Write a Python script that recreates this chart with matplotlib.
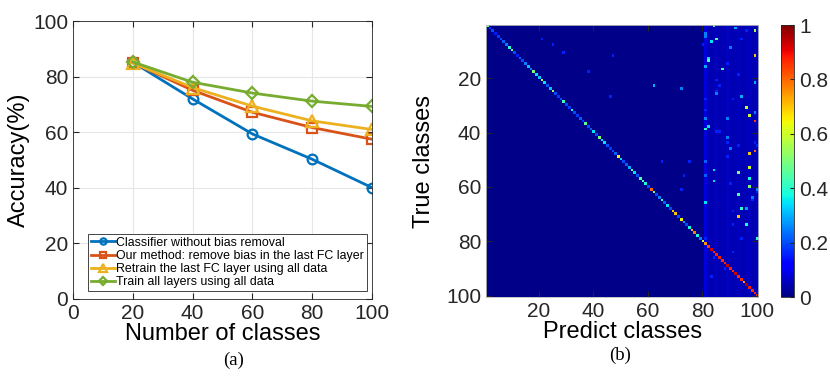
import matplotlib
matplotlib.use("Agg")
import matplotlib.pyplot as plt
import numpy as np

plt.rcParams['font.family'] = ['Liberation Sans', 'DejaVu Sans']

# ---- (a) accuracy vs number of classes
n_classes = [20, 40, 60, 80, 100]
acc_no_bias = [85.2, 72.0, 59.4, 50.3, 40.1]
acc_ours = [85.0, 75.1, 67.2, 61.7, 57.5]
acc_retrain_fc = [84.9, 76.1, 69.4, 64.1, 61.0]
acc_train_all = [85.3, 78.0, 74.1, 71.2, 69.3]
labels = ['Classifier without bias removal',
          'Our method: remove bias in the last FC layer',
          'Retrain the last FC layer using all data',
          'Train all layers using all data']

# ---- (b) confusion matrix (100 classes)
diag_vals = [0.50, 0.18, 0.20, 0.15, 0.18, 0.20, 0.22, 0.25, 0.40, 0.45,
             0.20, 0.15, 0.22, 0.20, 0.25, 0.32, 0.25, 0.50, 0.35, 0.32,
             0.55, 0.35, 0.20, 0.32, 0.55, 0.20, 0.18, 0.20, 0.42, 0.20,
             0.18, 0.37, 0.20, 0.18, 0.22, 0.18, 0.45, 0.20, 0.22, 0.35,
             0.20, 0.50, 0.35, 0.35, 0.20, 0.18, 0.20, 0.22, 0.65, 0.35,
             0.20, 0.22, 0.30, 0.45, 0.35, 0.20, 0.45, 0.42, 0.38, 0.20,
             0.80, 0.50, 0.20, 0.25, 0.42, 0.22, 0.35, 0.20, 0.70, 0.70,
             0.20, 0.65, 0.28, 0.20, 0.38, 0.72, 0.78, 0.38, 0.25, 0.60,
             0.75, 0.85, 0.92, 0.87, 0.87, 0.88, 0.87, 0.86, 0.93, 0.87,
             0.86, 0.93, 0.87, 0.86, 0.75, 0.95, 0.88, 0.86, 0.87, 0.85]
# background level of the columns of the new classes 81..100
new_col_base = [0.085, 0.05, 0.045, 0.05, 0.055, 0.045, 0.05, 0.045, 0.055, 0.05,
                0.045, 0.05, 0.055, 0.05, 0.045, 0.05, 0.055, 0.045, 0.05, 0.055]
old_base = 0.01
# (true row, predicted column, value), 1-based
off_bright = [(1, 84, 0.40), (2, 92, 0.30), (3, 99, 0.55), (4, 81, 0.25), (5, 81, 0.25),
              (6, 85, 0.45), (7, 83, 0.35), (9, 90, 0.25), (12, 99, 0.70), (13, 82, 0.35),
              (14, 82, 0.45), (16, 81, 0.30), (17, 87, 0.42), (22, 99, 0.30), (23, 62, 0.30),
              (24, 72, 0.25), (26, 85, 0.25), (27, 94, 0.30), (31, 96, 0.60), (33, 99, 0.25),
              (34, 97, 0.60), (35, 81, 0.25), (35, 89, 0.25), (36, 99, 0.85), (38, 82, 0.35),
              (39, 81, 0.40), (42, 89, 0.25), (46, 90, 0.25), (47, 99, 0.80), (48, 97, 0.70),
              (51, 81, 0.22), (53, 97, 0.60), (54, 84, 0.35), (55, 93, 0.50), (56, 81, 0.22),
              (57, 97, 0.38), (58, 84, 0.35), (60, 97, 0.50), (61, 100, 0.25), (63, 93, 0.45),
              (64, 98, 0.25), (66, 81, 0.35), (68, 94, 0.40), (68, 96, 0.28), (71, 93, 0.70),
              (74, 96, 0.38), (79, 100, 0.40)]
off_dim = [(8, 80), (15, 89), (19, 93), (21, 85), (23, 86), (3, 96), (6, 94), (25, 85),
           (28, 81), (28, 91), (32, 81), (40, 85), (40, 86), (44, 89), (45, 93), (44, 99),
           (45, 100), (49, 89), (59, 90), (62, 100), (65, 98), (69, 91), (74, 91), (79, 81),
           (79, 94), (8, 25), (11, 29), (18, 38), (12, 47), (27, 46), (6, 21), (56, 73),
           (51, 65), (51, 75), (61, 72), (86, 84), (90, 88), (84, 91), (93, 83)]
dim_val = 0.16

conf = np.full((100, 100), old_base)
conf[:, 80:] = new_col_base
for r, c in off_dim:
    conf[r - 1, c - 1] = dim_val
for r, c, v in off_bright:
    conf[r - 1, c - 1] = v
conf[np.arange(100), np.arange(100)] = diag_vals

colors = ['#0072BD', '#D95319', '#EDB120', '#77AC30']
markers = ['o', 's', '^', 'D']
msizes = [7, 6.5, 8, 6]
axcol = '#262626'

fig = plt.figure(figsize=(8.3, 3.77), dpi=100)

ax = fig.add_axes([0.088, 0.207, 0.360, 0.737])
series = [acc_no_bias, acc_ours, acc_retrain_fc, acc_train_all]
for ys, col, mk, ms, lab in zip(series, colors, markers, msizes, labels):
    ax.plot(n_classes, ys, color=col, lw=2, marker=mk, ms=ms, mfc='none',
            mew=1.6, label=lab)
ax.set_xlim(0, 100)
ax.set_ylim(0, 100)
ax.set_xticks([0, 20, 40, 60, 80, 100])
ax.set_yticks([0, 20, 40, 60, 80, 100])
ax.grid(True, color='#e6e6e6', lw=0.8)
ax.set_axisbelow(True)
ax.tick_params(direction='in', top=True, right=True, labelsize=15,
               colors=axcol, length=4)
for s in ax.spines.values():
    s.set_color('#262626')
    s.set_linewidth(0.6)
ax.set_xlabel('Number of classes', fontsize=17, labelpad=0)
ax.set_ylabel('Accuracy(%)', fontsize=17, labelpad=2)
leg = ax.legend(loc='lower left', bbox_to_anchor=(0.05, 0.027), fontsize=8.9,
                fancybox=False, framealpha=1, edgecolor='#262626',
                handlelength=1.9, handletextpad=0.15, borderpad=0.25,
                labelspacing=0.1, borderaxespad=0, markerscale=0.65)
leg.get_frame().set_linewidth(0.6)
fig.text(0.281, 0.045, '(a)', fontsize=13.5, family='Liberation Serif',
         ha='center', va='center')

axb = fig.add_axes([0.5855, 0.212, 0.328, 0.7215])
im = axb.imshow(conf, cmap='jet', vmin=0, vmax=1, aspect='auto',
                interpolation='nearest', extent=(0.5, 100.5, 100.5, 0.5))
axb.set_xticks([20, 40, 60, 80, 100])
axb.set_yticks([20, 40, 60, 80, 100])
axb.tick_params(direction='in', top=True, right=True, labelsize=15,
                colors=axcol, length=4)
for s in axb.spines.values():
    s.set_color('#bbbbbb')
    s.set_linewidth(0.6)
axb.set_xlabel('Predict classes', fontsize=17, labelpad=0)
axb.set_ylabel('True classes', fontsize=17, labelpad=8)
fig.text(0.747, 0.058, '(b)', fontsize=13.5, family='Liberation Serif',
         ha='center', va='center')

cax = fig.add_axes([0.9406, 0.212, 0.0164, 0.7215])
cb = fig.colorbar(im, cax=cax)
cb.set_ticks([0, 0.2, 0.4, 0.6, 0.8, 1])
cb.set_ticklabels(['0', '0.2', '0.4', '0.6', '0.8', '1'])
cax.tick_params(direction='in', labelsize=15, colors=axcol, length=3)
cb.outline.set_linewidth(0.6)
cb.outline.set_edgecolor('#262626')

fig.savefig('out.png', dpi=100)
